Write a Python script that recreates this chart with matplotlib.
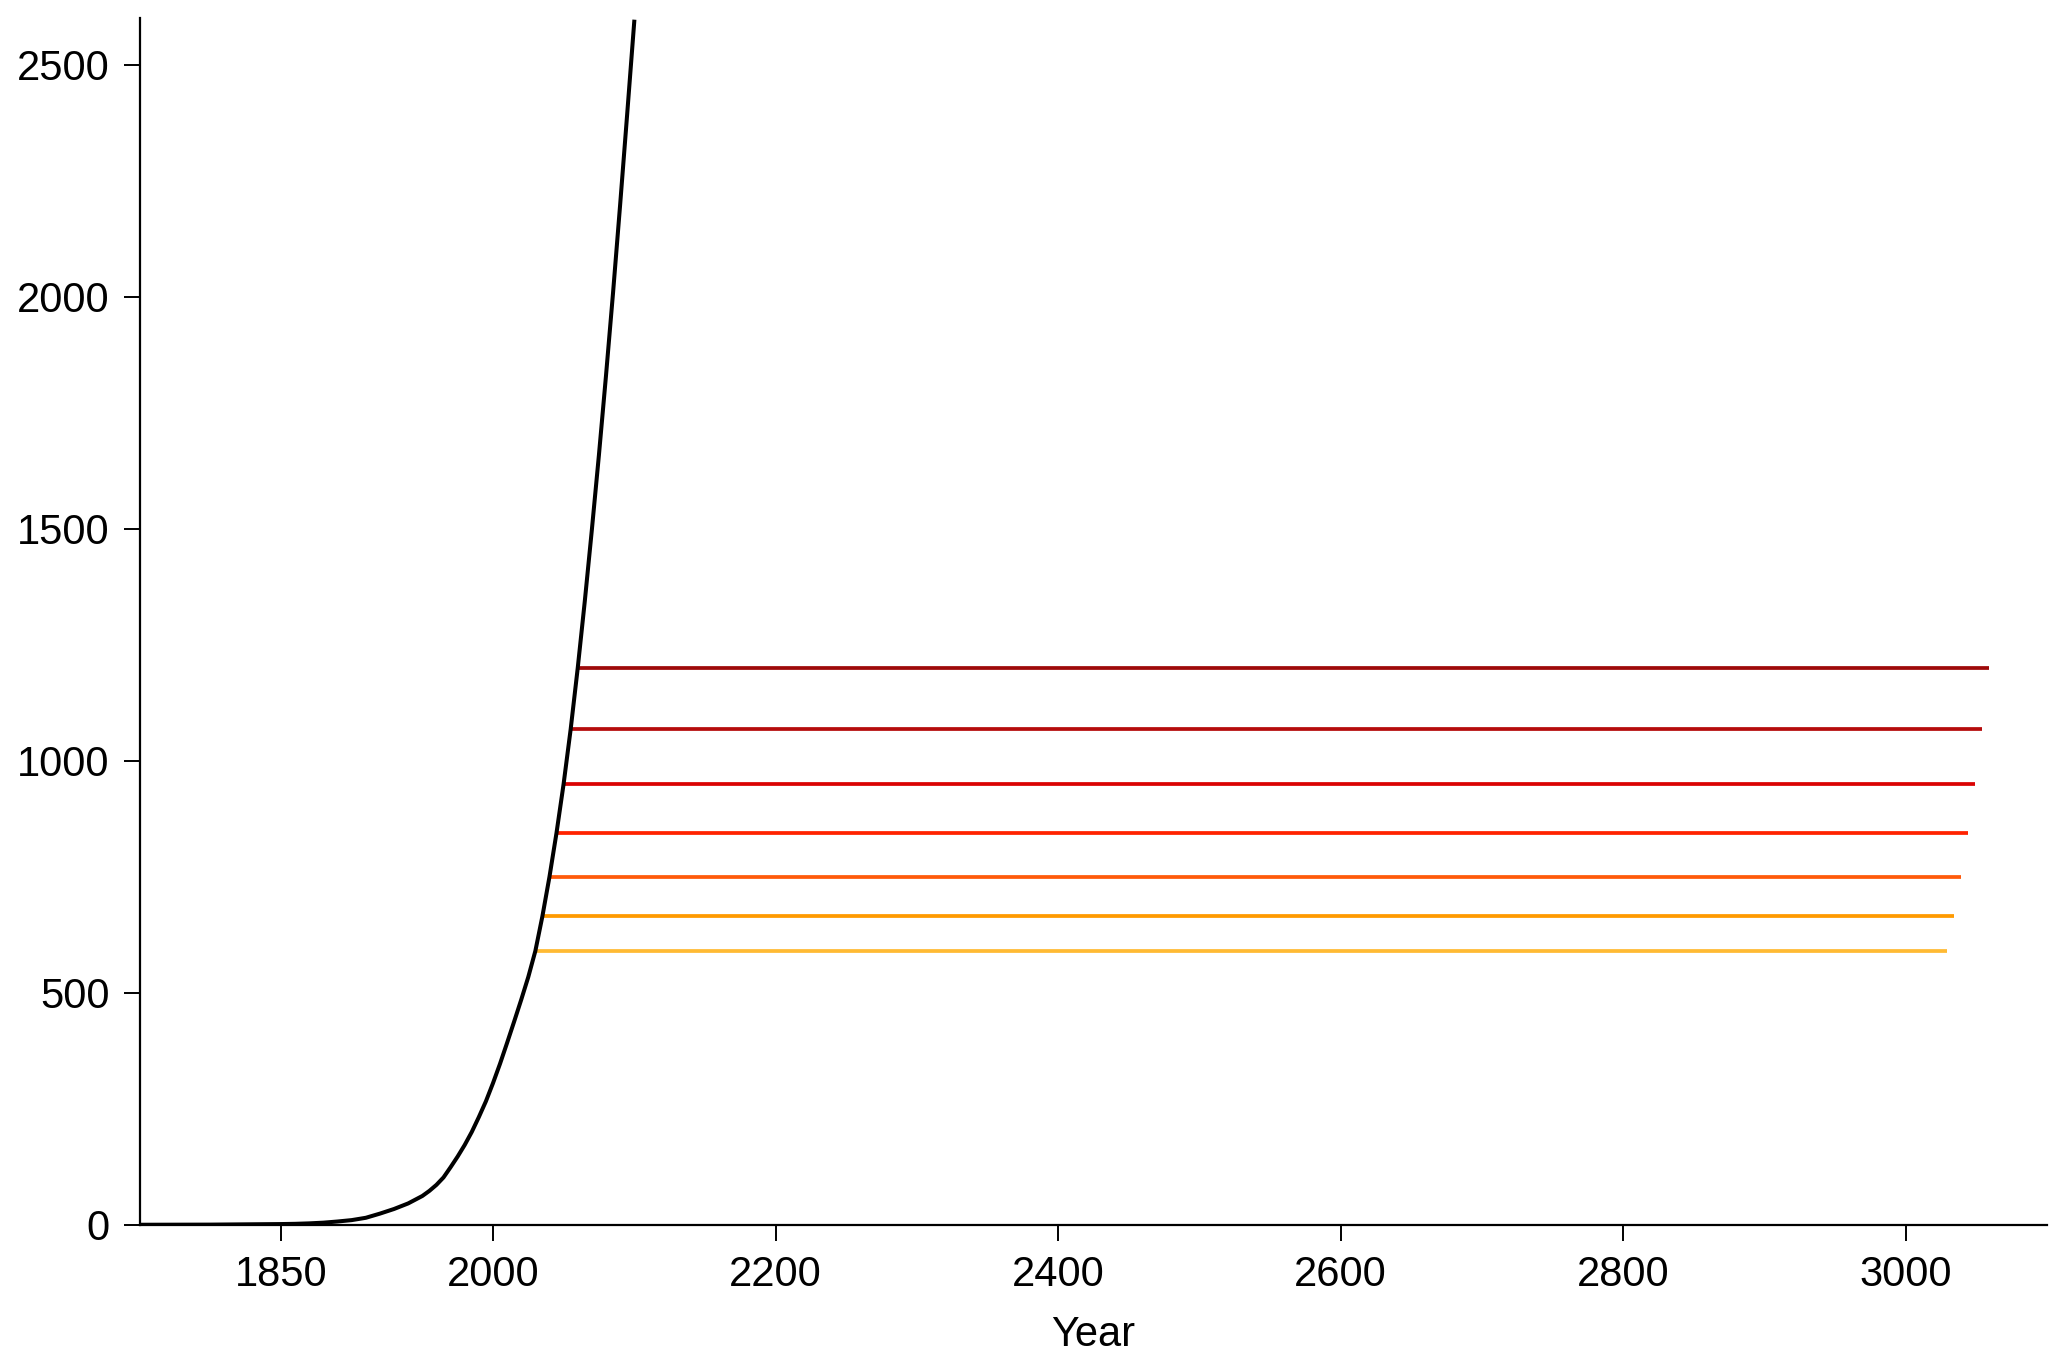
import matplotlib
matplotlib.use("Agg")
import matplotlib.pyplot as plt

plt.rcParams['font.family'] = ['Liberation Sans', 'DejaVu Sans']

# Cumulative curve
years = [1750, 1800, 1850, 1860, 1870, 1880, 1890, 1900, 1910, 1920, 1930, 1940,
         1950, 1955, 1960, 1965, 1970, 1975, 1980, 1985, 1990, 1995, 2000, 2005,
         2010, 2015, 2020, 2025, 2030, 2035, 2040, 2045, 2050, 2055, 2060, 2065,
         2070, 2075, 2080, 2085, 2090, 2095, 2100]
values = [0, 0.3, 1.5, 2, 3, 4.5, 7, 10, 15, 24, 34, 46,
          62, 73, 86, 102, 124, 147, 172, 200, 232, 266, 305, 347,
          392, 438, 485, 534, 590, 665, 750, 845, 950, 1068, 1200, 1344,
          1498, 1659, 1830, 2009, 2198, 2394, 2593]

# Horizontal plateau lines
levels = [590, 665, 750, 845, 950, 1068, 1200]
starts = [2030, 2035, 2040, 2045, 2050, 2055, 2060]
ends = [3029, 3034, 3039, 3044, 3049, 3054, 3059]
colors = ['#FFBA33', '#FF9A00', '#FF5A0A', '#FF2200', '#DA0303', '#B50C0C', '#9E0A0A']

xticks = [1850, 2000, 2200, 2400, 2600, 2800, 3000]
yticks = [0, 500, 1000, 1500, 2000, 2500]

fig = plt.figure(figsize=(20.67, 13.66), dpi=100)
ax = fig.add_axes([0.0676, 0.1034, 0.9228, 0.8831])

for lv, s, e, c in zip(levels, starts, ends, colors):
    ax.plot([s, e], [lv, lv], color=c, lw=2.7, solid_capstyle='butt', zorder=2)

ax.plot(years, values, color='black', lw=2.9, zorder=3)

ax.set_xlim(1750, 3100)
ax.set_ylim(0, 2600)
ax.set_xticks(xticks)
ax.set_yticks(yticks)
ax.spines['top'].set_visible(False)
ax.spines['right'].set_visible(False)
for sp in ['left', 'bottom']:
    ax.spines[sp].set_linewidth(1.6)
ax.tick_params(axis='both', direction='out', length=11.5, width=1.4,
               labelsize=30, pad=10)
ax.set_xlabel('Year', fontsize=30, labelpad=15)

fig.savefig('out.png', dpi=100)
